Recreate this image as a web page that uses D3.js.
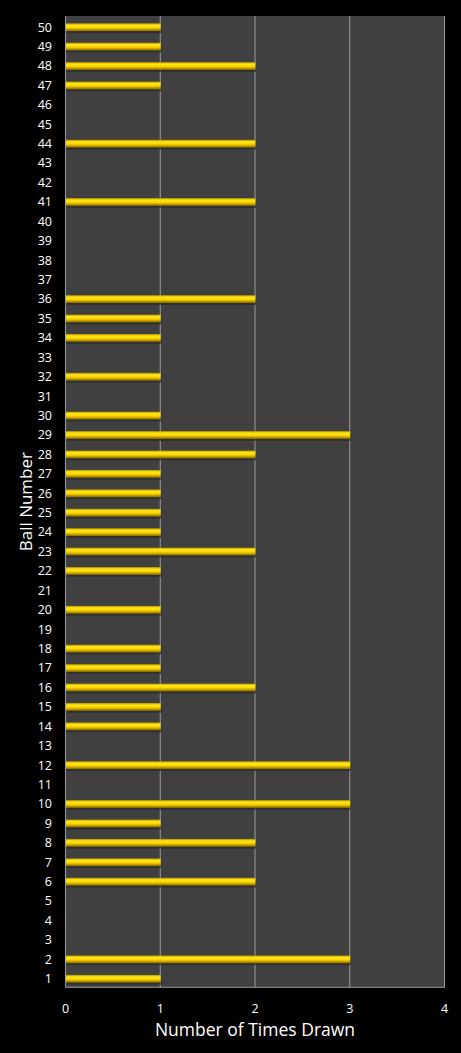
<!DOCTYPE html>
<html>
<head>
<meta charset="utf-8">
<script src="https://cdn.jsdelivr.net/npm/d3@7"></script>
<style>
  html, body { margin: 0; padding: 0; background: #000; }
  svg { display: block; }
  text { font-family: "Open Sans", "Noto Sans", sans-serif; fill: #fff; }
</style>
</head>
<body>
<svg id="chart"></svg>
<script>
const balls = d3.range(1, 51);
const timesDrawn = [1, 3, 0, 0, 0, 2, 1, 2, 1, 3,
                    0, 3, 0, 1, 1, 2, 1, 1, 0, 1,
                    0, 1, 2, 1, 1, 1, 1, 2, 3, 1,
                    0, 1, 0, 1, 1, 2, 0, 0, 0, 0,
                    2, 0, 0, 2, 0, 0, 1, 2, 1, 1];
const xTicks = [0, 1, 2, 3, 4];

function drawChart(){

    const width = 461, height = 1053;
    const margin = {top: 16, right: 16.5, bottom: 65.7, left: 65.5};

    const svg = d3.select("#chart")
                  .attr("width", width)
                  .attr("height", height);

    svg.selectAll("*").remove();

    const x = d3.scaleLinear()
                .domain([0, 4])
                .range([margin.left, width - margin.right]);

    const y = d3.scaleBand()
                .domain(balls.slice().reverse())
                .range([margin.top, height - margin.bottom])
                .paddingInner(0.598)
                .paddingOuter(0.306)
                .align(0.61);

    const defs = svg.append("defs");
    const grad = defs.append("linearGradient")
                     .attr("id", "barGrad")
                     .attr("x1", 0).attr("y1", 0)
                     .attr("x2", 0).attr("y2", 1);
    grad.append("stop").attr("offset", "0%").attr("stop-color", "#b08a00");
    grad.append("stop").attr("offset", "25%").attr("stop-color", "#ffe81a");
    grad.append("stop").attr("offset", "55%").attr("stop-color", "#ffd700");
    grad.append("stop").attr("offset", "100%").attr("stop-color", "#8a6a00");

    // plot background
    svg.append("rect")
       .attr("x", x(0))
       .attr("y", margin.top)
       .attr("width", x(4) - x(0))
       .attr("height", height - margin.bottom - margin.top)
       .attr("fill", "#404040");

    // gridlines
    svg.append("g")
       .selectAll("line")
       .data(xTicks)
       .join("line")
       .attr("x1", d => x(d)).attr("x2", d => x(d))
       .attr("y1", margin.top).attr("y2", height - margin.bottom)
       .style("stroke", "#9a9a9a")
       .style("stroke-width", 1);

    svg.append("line")
       .attr("x1", x(0)).attr("x2", x(4))
       .attr("y1", height - margin.bottom).attr("y2", height - margin.bottom)
       .style("stroke", "#9a9a9a");

    // bar shadows
    svg.append("g")
       .selectAll("rect")
       .data(balls.filter((b, i) => timesDrawn[i] > 0))
       .join("rect")
       .attr("x", x(0) + 1)
       .attr("y", d => y(d) + 2)
       .attr("width", d => x(timesDrawn[d - 1]) - x(0))
       .attr("height", y.bandwidth())
       .attr("fill", "#2a2a2a")
       .attr("opacity", 0.7);

    // bars
    svg.append("g")
       .selectAll("rect")
       .data(balls.filter((b, i) => timesDrawn[i] > 0))
       .join("rect")
       .attr("x", x(0) + 0.5)
       .attr("y", d => y(d))
       .attr("width", d => x(timesDrawn[d - 1]) - x(0))
       .attr("height", y.bandwidth())
       .attr("fill", "url(#barGrad)");

    // y axis labels
    svg.append("g")
       .selectAll("text")
       .data(balls)
       .join("text")
       .attr("x", 52)
       .attr("y", d => y(d) + y.bandwidth() / 2)
       .attr("dy", "0.35em")
       .attr("text-anchor", "end")
       .style("font-size", "12.5px")
       .text(d => d);

    // x axis labels
    svg.append("g")
       .selectAll("text")
       .data(xTicks)
       .join("text")
       .attr("x", d => x(d))
       .attr("y", 1013)
       .attr("text-anchor", "middle")
       .style("font-size", "12.5px")
       .text(d => d);

    svg.append("text")
       .attr("x", (x(0) + x(4)) / 2)
       .attr("y", 1036)
       .attr("text-anchor", "middle")
       .style("font-size", "17.5px")
       .text("Number of Times Drawn");

    svg.append("text")
       .attr("transform", "translate(32," + (margin.top + (height - margin.bottom - margin.top) / 2) + ") rotate(-90)")
       .attr("text-anchor", "middle")
       .style("font-size", "17px")
       .text("Ball Number");
}

drawChart();
</script>
</body>
</html>
